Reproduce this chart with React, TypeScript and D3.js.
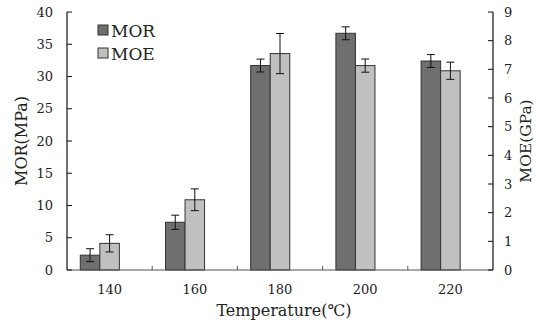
import React from "react";
import * as d3 from "d3";

const temperatures = ["140", "160", "180", "200", "220"];
const morValues = [2.3, 7.4, 31.7, 36.7, 32.4];
const morErrors = [1.0, 1.1, 1.0, 1.0, 1.0];
const moeValues = [0.93, 2.45, 7.55, 7.13, 6.95];
const moeErrors = [0.3, 0.38, 0.7, 0.23, 0.3];
const morTicks = [0, 5, 10, 15, 20, 25, 30, 35, 40];
const moeTicks = [0, 1, 2, 3, 4, 5, 6, 7, 8, 9];

const W = 537,
  H = 322;
const margin = { top: 12, right: 44, bottom: 52, left: 67 };
const font = "'DejaVu Serif', 'Liberation Serif', serif";
const pad = 0.312;

const App = () => {
  const x0 = d3
    .scaleBand()
    .domain(temperatures)
    .range([margin.left, W - margin.right])
    .paddingInner(pad)
    .paddingOuter(pad / 2);
  // third slot left empty, so the pair sits left of the category centre
  const x1 = d3
    .scaleBand()
    .domain(["MOR", "MOE", "blank"])
    .range([0, x0.bandwidth()]);
  const yL = d3.scaleLinear().domain([0, 40]).range([H - margin.bottom, margin.top]);
  const yR = d3.scaleLinear().domain([0, 9]).range([H - margin.bottom, margin.top]);

  const series = [
    { key: "MOR", values: morValues, errors: morErrors, y: yL, fill: "#6f6f6f" },
    { key: "MOE", values: moeValues, errors: moeErrors, y: yR, fill: "#c0c0c0" },
  ];

  const left = margin.left,
    right = W - margin.right,
    bottom = H - margin.bottom;
  const center = (t: string) => x0(t)! + x0.bandwidth() / 2;
  const gapHalf = (x0.step() * pad) / 2;

  return (
    <svg width={W} height={H} style={{ position: "absolute", left: 0, top: 0 }} fontFamily={font}>
      <rect width={W} height={H} fill="#fff" />
      {series.map(s =>
        temperatures.map((t, i) => {
          const bx = x0(t)! + x1(s.key)!;
          const bw = x1.bandwidth();
          const top = s.y(s.values[i]);
          const cx = bx + bw / 2;
          const e1 = s.y(s.values[i] + s.errors[i]);
          const e2 = s.y(s.values[i] - s.errors[i]);
          return (
            <g key={s.key + t}>
              <rect x={bx} y={top} width={bw} height={bottom - top} fill={s.fill} stroke="#333" strokeWidth={1} />
              <line x1={cx} x2={cx} y1={e1} y2={e2} stroke="#111" strokeWidth={1} />
              <line x1={cx - 4} x2={cx + 4} y1={e1} y2={e1} stroke="#111" strokeWidth={1} />
              <line x1={cx - 4} x2={cx + 4} y1={e2} y2={e2} stroke="#111" strokeWidth={1} />
            </g>
          );
        })
      )}

      {/* x axis */}
      <line x1={left} x2={right} y1={bottom} y2={bottom} stroke="#555" strokeWidth={1.2} />
      {temperatures.slice(1).map(t => (
        <line key={t} x1={x0(t)! - gapHalf} x2={x0(t)! - gapHalf} y1={bottom} y2={bottom - 4} stroke="#555" />
      ))}
      {temperatures.map(t => (
        <text key={t} x={center(t)} y={bottom + 24} textAnchor="middle" fontSize={13} fill="#222">
          {t}
        </text>
      ))}
      <text x={(left + right) / 2 + 4} y={bottom + 46} textAnchor="middle" fontSize={16} fill="#222">
        Temperature(℃)
      </text>

      {/* left axis */}
      <line x1={left} x2={left} y1={margin.top} y2={bottom} stroke="#111" strokeWidth={1.2} />
      {morTicks.map(v => (
        <g key={v}>
          <line x1={left} x2={left + 5} y1={yL(v)} y2={yL(v)} stroke="#111" />
          <text x={left - 14} y={yL(v) + 4.5} textAnchor="end" fontSize={13} fill="#222">
            {v}
          </text>
        </g>
      ))}
      <text transform={`translate(27,${(margin.top + bottom) / 2}) rotate(-90)`} textAnchor="middle" fontSize={16} fill="#222">
        MOR(MPa)
      </text>

      {/* right axis */}
      <line x1={right} x2={right} y1={margin.top} y2={bottom} stroke="#111" strokeWidth={1.2} />
      {moeTicks.map(v => (
        <g key={v}>
          <line x1={right - 5} x2={right} y1={yR(v)} y2={yR(v)} stroke="#111" />
          <text x={right + 11} y={yR(v) + 4.5} textAnchor="start" fontSize={13} fill="#222">
            {v}
          </text>
        </g>
      ))}
      <text transform={`translate(531,${(margin.top + bottom) / 2}) rotate(-90)`} textAnchor="middle" fontSize={15.5} fill="#222">
        MOE(GPa)
      </text>

      {/* legend */}
      {series.map((s, i) => (
        <g key={s.key} transform={`translate(98,${25 + i * 23})`}>
          <rect x={0} y={0} width={10} height={10} fill={s.fill} stroke="#333" />
          <text x={13} y={11.5} fontSize={17} fill="#222">
            {s.key}
          </text>
        </g>
      ))}
    </svg>
  );
};

export default App;
